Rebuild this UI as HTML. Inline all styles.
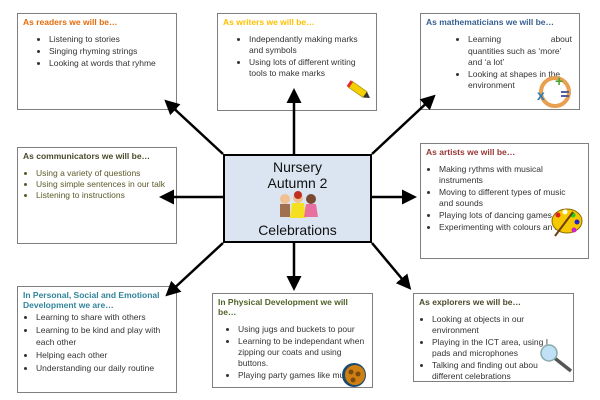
<!DOCTYPE html>
<html><head><meta charset="utf-8"><style>
html,body{margin:0;padding:0;background:#fff;width:600px;height:400px;overflow:hidden}
body{position:relative;font-family:"Liberation Sans",sans-serif;font-size:8.5px;color:#333}
.b{position:absolute;border:1px solid #7f7f7f;background:#fff;box-sizing:border-box;padding:3px 5px}
.t{font-weight:bold;font-size:8.5px;line-height:10px;margin-bottom:7px}
ul{margin:0;padding-left:18px;line-height:11px}
ul.s{padding-left:13px}
li{margin:0 0 1px 0}
svg.ab{position:absolute;left:0;top:0}
.c{position:absolute;left:223px;top:154px;width:149px;height:89px;background:#dbe5f1;border:2px solid #000;box-sizing:border-box;text-align:center;font-size:14px;color:#111;line-height:16px}
</style></head><body>

<div class="b" style="left:17px;top:13px;width:160px;height:97px">
<div class="t" style="color:#e36c0a">As readers we will be…</div>
<ul style="padding-left:26px"><li>Listening to stories</li><li>Singing rhyming strings</li><li>Looking at words that ryhme</li></ul></div>

<div class="b" style="left:217px;top:13px;width:160px;height:98px">
<div class="t" style="color:#ffc000">As writers we will be…</div>
<ul style="padding-left:26px"><li>Independantly making marks and symbols</li><li>Using lots of different writing tools to make marks</li></ul>
<svg class="ab" style="left:128px;top:66px" width="26" height="22"><g transform="rotate(35 13 11)"><rect x="2" y="7" width="18" height="7" fill="#f5d000" stroke="#a08000" stroke-width=".6"/><rect x="0" y="7" width="3" height="7" fill="#e03030"/><polygon points="20,7 26,10.5 20,14" fill="#333"/></g></svg></div>

<div class="b" style="left:420px;top:13px;width:160px;height:97px">
<div class="t" style="color:#365f91">As mathematicians we will be…</div>
<ul style="padding-left:42px;padding-right:2px"><li style="text-align:justify;text-align-last:justify">Learning about</li><li style="list-style:none">quantities such as ‘more’ and ‘a lot’</li><li>Looking at shapes in the environment</li></ul>
<svg class="ab" style="left:112px;top:60px" width="40" height="34"><circle cx="22" cy="18" r="14" fill="none" stroke="#e8a050" stroke-width="4"/><text x="4" y="26" font-size="14" font-weight="bold" fill="#2a7ab8" font-family="Liberation Sans">x</text><text x="22" y="12" font-size="14" font-weight="bold" fill="#4aa830" font-family="Liberation Sans">+</text><rect x="28" y="17" width="8" height="2" fill="#5060a0"/><rect x="28" y="21" width="8" height="2" fill="#5060a0"/></svg></div>

<div class="b" style="left:17px;top:147px;width:160px;height:97px">
<div class="t" style="color:#4a4a2a">As communicators we will be…</div>
<ul class="s" style="color:#5a5a2a;line-height:10px"><li>Using a variety of questions</li><li>Using simple sentences in our talk</li><li>Listening to instructions</li></ul></div>

<div class="b" style="left:420px;top:143px;width:169px;height:116px">
<div class="t" style="color:#953734">As artists we will be…</div>
<ul class="s" style="padding-right:4px"><li>Making rythms with musical instruments</li><li>Moving to different types of music and sounds</li><li>Playing lots of dancing games</li><li>Experimenting with colours an marks</li></ul>
<svg class="ab" style="left:130px;top:62px" width="32" height="32"><ellipse cx="16" cy="15" rx="15" ry="12" fill="#f5c800" stroke="#8a6a00"/><circle cx="7" cy="9" r="2.5" fill="#e02020"/><circle cx="14" cy="6" r="2.5" fill="#ffe"/><circle cx="22" cy="9" r="2.5" fill="#2c2"/><circle cx="26" cy="16" r="2.5" fill="#22c"/><circle cx="23" cy="24" r="2.5" fill="#c2c"/><line x1="4" y1="30" x2="22" y2="6" stroke="#704010" stroke-width="2"/></svg></div>

<div class="b" style="left:17px;top:286px;width:160px;height:107px">
<div class="t" style="color:#31849b;margin-bottom:1px">In Personal, Social and Emotional Development we are…</div>
<ul class="s" style="line-height:12px"><li>Learning to share with others</li><li>Learning to be kind and play with each other</li><li>Helping each other</li><li>Understanding our daily routine</li></ul></div>

<div class="b" style="left:212px;top:293px;width:161px;height:95px">
<div class="t" style="color:#4f6228">In Physical Development we will be…</div>
<ul class="s" style="padding-left:20px"><li>Using jugs and buckets to pour</li><li>Learning to be independant when zipping our coats and using buttons.</li><li>Playing party games like mu</li></ul>
<svg class="ab" style="left:126px;top:68px" width="30" height="26"><circle cx="15" cy="13" r="12" fill="#1a4a70"/><circle cx="16" cy="13" r="10" fill="#d08010"/><circle cx="12" cy="10" r="2.5" fill="#7a4a10"/><circle cx="19" cy="12" r="2.5" fill="#7a4a10"/><circle cx="14" cy="18" r="2.5" fill="#7a4a10"/></svg></div>

<div class="b" style="left:413px;top:293px;width:161px;height:89px">
<div class="t" style="color:#4a4a2a">As explorers we will be…</div>
<ul class="s"><li>Looking at objects in our environment</li><li>Playing in the ICT area, using I pads and microphones</li><li>Talking and finding out abou different celebrations</li></ul>
<svg class="ab" style="left:124px;top:50px" width="36" height="30"><line x1="14" y1="12" x2="33" y2="27" stroke="#555" stroke-width="3.5"/><circle cx="11" cy="9" r="8" fill="#bfe0f5" stroke="#8aa" stroke-width="1.5"/></svg></div>

<svg class="ab" width="600" height="400">
<defs><marker id="a" markerWidth="6" markerHeight="6" refX="4" refY="3" orient="auto" markerUnits="strokeWidth"><path d="M0,0 L6,3 L0,6 z" fill="#000"/></marker></defs>
<g stroke="#000" stroke-width="2.5" marker-end="url(#a)">
<line x1="223" y1="154" x2="168" y2="103"/>
<line x1="294" y1="154" x2="294" y2="93"/>
<line x1="372" y1="154" x2="432" y2="98"/>
<line x1="223" y1="197" x2="164" y2="197"/>
<line x1="372" y1="197" x2="412" y2="197"/>
<line x1="223" y1="243" x2="169" y2="293"/>
<line x1="294" y1="243" x2="294" y2="286"/>
<line x1="372" y1="243" x2="408" y2="286"/>
</g></svg>

<div class="c"><div style="margin-top:3px">Nursery<br>Autumn 2</div>
<svg width="50" height="31" style="display:block;margin:0 auto"><circle cx="12" cy="8" r="5" fill="#f0c090"/><rect x="7" y="13" width="10" height="13" fill="#a07050"/><circle cx="25" cy="7" r="5" fill="#f0c090"/><path d="M19,12 L31,12 L33,27 L17,27z" fill="#f5e020"/><circle cx="25" cy="4" r="4" fill="#c03020"/><circle cx="38" cy="8" r="5" fill="#7a4a30"/><path d="M33,13 L43,13 L45,26 L31,26z" fill="#e870a0"/></svg>
<div>Celebrations</div></div>

</body></html>
